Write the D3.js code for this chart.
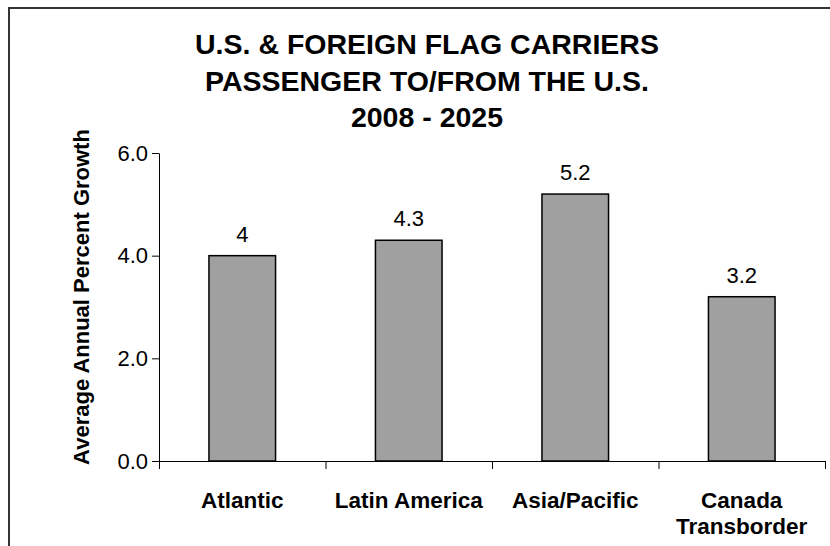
<!DOCTYPE html>
<html>
<head>
<meta charset="utf-8">
<script src="https://cdn.jsdelivr.net/npm/d3@7"></script>
<style>
  html, body { margin: 0; padding: 0; background: #fff; }
  svg { display: block; font-family: "Liberation Sans", Arial, sans-serif; }
</style>
</head>
<body>
<svg id="chart" width="830" height="546"></svg>
<script>
const titleLines = ["U.S. & FOREIGN FLAG CARRIERS", "PASSENGER TO/FROM THE U.S.", "2008 - 2025"];
const categories = ["Atlantic", "Latin America", "Asia/Pacific", "Canada Transborder"];
const categoryLabelLines = [["Atlantic"], ["Latin America"], ["Asia/Pacific"], ["Canada", "Transborder"]];
const values = [4, 4.3, 5.2, 3.2];
const valueLabels = ["4", "4.3", "5.2", "3.2"];
const yTicks = [0, 2, 4, 6];
const yLabel = "Average Annual Percent Growth";

const svg = d3.select("#chart");

// outer frame
svg.append("rect")
  .attr("x", 9).attr("y", 8).attr("width", 840).attr("height", 560)
  .attr("fill", "none").attr("stroke", "#333").attr("stroke-width", 2);

const plotLeft = 159, plotRight = 825, plotTop = 153, plotBottom = 461;

const x = d3.scaleBand().domain(categories).range([plotLeft, plotRight])
  .paddingInner(0.6).paddingOuter(0.3);
const y = d3.scaleLinear().domain([0, 6]).range([plotBottom, plotTop]);

// title
const title = svg.append("text")
  .attr("text-anchor", "middle")
  .attr("font-weight", "bold").attr("font-size", 28.5).attr("fill", "#000");
titleLines.forEach((t, i) => {
  title.append("tspan").attr("x", 427).attr("y", 54 + i * 36.5).text(t);
});

// bars
svg.append("g").selectAll("rect").data(values).join("rect")
  .attr("x", (d, i) => x(categories[i]))
  .attr("y", d => y(d))
  .attr("width", x.bandwidth())
  .attr("height", d => y(0) - y(d))
  .attr("fill", "#a0a0a0").attr("stroke", "#000").attr("stroke-width", 1.5);

// value labels
svg.append("g").selectAll("text").data(values).join("text")
  .attr("x", (d, i) => x(categories[i]) + x.bandwidth() / 2)
  .attr("y", d => y(d) - 14)
  .attr("text-anchor", "middle").attr("font-size", 22).attr("fill", "#000")
  .text((d, i) => valueLabels[i]);

// y axis
const yAxis = svg.append("g").attr("transform", `translate(${plotLeft},0)`)
  .call(d3.axisLeft(y).tickValues(yTicks).tickFormat(d3.format(".1f")).tickSize(7).tickSizeOuter(0).tickPadding(4));
yAxis.selectAll("text").attr("font-size", 22).attr("fill", "#000").attr("font-family", "Liberation Sans, Arial, sans-serif");
yAxis.selectAll("line, path").attr("stroke", "#000");

// x axis with ticks at category boundaries
const xb = d3.scaleLinear().domain([0, categories.length]).range([plotLeft, plotRight]);
const xAxis = svg.append("g").attr("transform", `translate(0,${plotBottom})`)
  .call(d3.axisBottom(xb).tickValues(d3.range(categories.length + 1)).tickFormat("").tickSize(8).tickSizeOuter(0));
xAxis.selectAll("line, path").attr("stroke", "#000");

// category labels
const catG = svg.append("g");
categoryLabelLines.forEach((lines, i) => {
  const t = catG.append("text")
    .attr("text-anchor", "middle").attr("font-weight", "bold").attr("font-size", 22.5).attr("fill", "#000");
  lines.forEach((ln, j) => {
    t.append("tspan").attr("x", x(categories[i]) + x.bandwidth() / 2).attr("y", 508 + j * 26).text(ln);
  });
});

// y axis label
svg.append("text")
  .attr("transform", "translate(89,297) rotate(-90)")
  .attr("text-anchor", "middle").attr("font-weight", "bold").attr("font-size", 22).attr("fill", "#000")
  .text(yLabel);
</script>
</body>
</html>
